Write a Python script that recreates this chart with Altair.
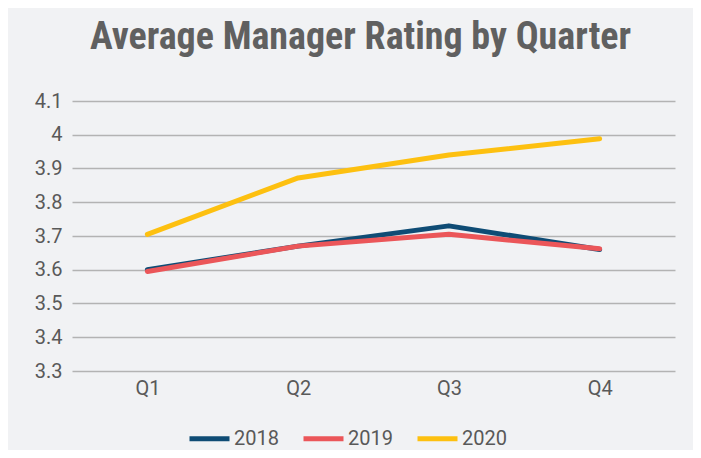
import altair as alt
import pandas as pd

quarters = ["Q1", "Q2", "Q3", "Q4"]
years = ["2018", "2019", "2020"]
r2018 = [3.60, 3.67, 3.73, 3.66]
r2019 = [3.595, 3.67, 3.705, 3.662]
r2020 = [3.705, 3.872, 3.94, 3.988]
colors = ["#0f4c75", "#eb5659", "#fdc010"]
y_ticks = [3.3, 3.4, 3.5, 3.6, 3.7, 3.8, 3.9, 4.0, 4.1]

rows = []
for yr, vals in zip(years, [r2018, r2019, r2020]):
    for q, v in zip(quarters, vals):
        rows.append({"Quarter": q, "Year": yr, "Rating": v})
df = pd.DataFrame(rows)

chart = alt.Chart(df).mark_line(strokeWidth=5, strokeCap="round", strokeJoin="round").encode(
    x=alt.X("Quarter:N", sort=quarters, title=None,
            scale=alt.Scale(type="point", padding=0.5),
            axis=alt.Axis(labelAngle=0, domain=False, ticks=False, labelPadding=7,
                          labelFontSize=20, labelColor="#595959", labelFont="Roboto")),
    y=alt.Y("Rating:Q", title=None,
            scale=alt.Scale(domain=[3.3, 4.1], nice=False, zero=False),
            axis=alt.Axis(values=y_ticks, format="~g", domain=False, ticks=False,
                          labelPadding=10, labelFontSize=20, labelColor="#595959",
                          labelFont="Roboto", grid=True, gridColor="#b3b3b3",
                          gridWidth=1.5)),
    color=alt.Color("Year:N", sort=years,
                    scale=alt.Scale(domain=years, range=colors),
                    legend=alt.Legend(title=None, orient="none", direction="horizontal",
                                      legendX=115, legendY=315,
                                      symbolType="stroke", symbolSize=1600,
                                      symbolStrokeWidth=5, labelFontSize=20,
                                      labelFont="Roboto", labelColor="#595959",
                                      labelOffset=2, columnPadding=14)),
).properties(
    width=603,
    height=270,
    title=alt.TitleParams("Average Manager Rating by Quarter",
                          font="Roboto Condensed, DejaVu Sans Condensed, Roboto",
                          fontSize=38, fontWeight="bold",
                          color="#606060", anchor="middle", offset=34, dx=-13),
    padding={"left": 64, "top": 93, "right": 18, "bottom": 79},
    autosize=alt.AutoSizeParams(type="none"),
).configure(
    background="#f1f2f4",
).configure_view(stroke=None)

chart.save("out.html", embed_options={"renderer": "svg", "actions": False})
